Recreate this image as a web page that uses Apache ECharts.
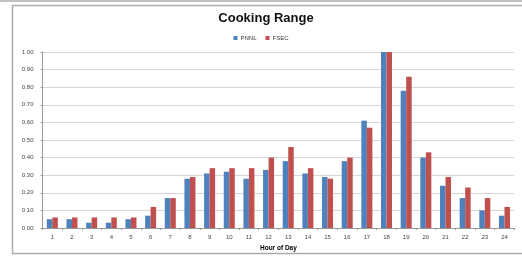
<!DOCTYPE html>
<html><head><meta charset="utf-8">
<script src="https://cdn.jsdelivr.net/npm/echarts@6/dist/echarts.min.js"></script>
<style>html,body{margin:0;padding:0;background:#fff}#c{width:522px;height:257px}</style>
</head><body><div id="c"></div>
<script>
const hours = ['1','2','3','4','5','6','7','8','9','10','11','12','13','14','15','16','17','18','19','20','21','22','23','24'];
const pnnl = [0.05,0.05,0.03,0.03,0.05,0.07,0.17,0.28,0.31,0.32,0.28,0.33,0.38,0.31,0.29,0.38,0.61,1.00,0.78,0.40,0.24,0.17,0.10,0.07];
const fsec = [0.06,0.06,0.06,0.06,0.06,0.12,0.17,0.29,0.34,0.34,0.34,0.40,0.46,0.34,0.28,0.40,0.57,1.00,0.86,0.43,0.29,0.23,0.17,0.12];
const seriesNames = ['PNNL','FSEC'];
const chart = echarts.init(document.getElementById('c'), null, {renderer:'canvas'});
const F = 'Liberation Sans, Arial, sans-serif';
chart.setOption({
  animation:false,
  backgroundColor:'#fff',
  title:{text:'Cooking Range',left:266,top:12,textAlign:'center',padding:0,
    textStyle:{fontFamily:F,fontSize:13,fontWeight:'bold',color:'#111'}},
  legend:{data:seriesNames,left:'center',top:35,padding:0,itemWidth:4,itemHeight:4,itemGap:9,
    textStyle:{fontFamily:F,fontSize:6,color:'#333',padding:[0,0,0,-2]},icon:'rect'},
  grid:{left:42.5,right:7.7,top:52,bottom:29},
  xAxis:{type:'category',data:hours,name:'Hour of Day',nameLocation:'middle',nameGap:15,
    nameTextStyle:{fontFamily:F,fontSize:6.5,fontWeight:'bold',color:'#000'},
    axisLine:{lineStyle:{color:'#999',width:1}},
    axisTick:{show:true,length:2,lineStyle:{color:'#999'}},
    axisLabel:{fontFamily:F,fontSize:6,color:'#444',margin:6}},
  yAxis:{type:'value',min:0,max:1,interval:0.1,
    axisLine:{show:true,lineStyle:{color:'#999',width:1}},
    axisTick:{show:true,length:2,lineStyle:{color:'#999'}},
    axisLabel:{fontFamily:F,fontSize:6,color:'#444',margin:9,formatter:v=>v.toFixed(2)},
    splitLine:{lineStyle:{color:'#d6d6d6',width:1}}},
  series:[
    {name:'PNNL',type:'bar',data:pnnl,barGap:'0%',barCategoryGap:'44%',itemStyle:{color:'#4F81BD'}},
    {name:'FSEC',type:'bar',data:fsec,itemStyle:{color:'#C0504D'}}
  ],
  graphic:[
    {type:'line',shape:{x1:0,y1:1,x2:522,y2:1},style:{stroke:'#aaa',lineWidth:1.5},silent:true},
    {type:'rect',shape:{x:12.5,y:5.5,width:520,height:248},style:{fill:null,stroke:'#aaa',lineWidth:1.5},silent:true}
  ]
});
</script></body></html>
